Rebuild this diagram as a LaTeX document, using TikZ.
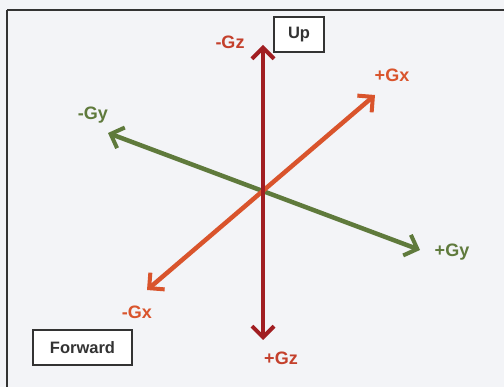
\documentclass[tikz,border=0pt]{standalone}
\usepackage{fontspec}
\setmainfont{Liberation Sans}
\usetikzlibrary{arrows.meta}
\definecolor{zred}{HTML}{A11E22}
\definecolor{xorg}{HTML}{D9542C}
\definecolor{ygrn}{HTML}{5F7A3C}
\definecolor{zlab}{HTML}{C4402C}
\definecolor{bg}{HTML}{F3F4F7}
\definecolor{boxc}{HTML}{333333}
\tikzset{
  axis/.style={line width=4.5pt, {Straight Barb[length=11pt,width=22pt,line width=4pt]}-{Straight Barb[length=11pt,width=22pt,line width=4pt]}},
  lab/.style={font=\bfseries\fontsize{18}{20}\selectfont, inner sep=0pt},
  tag/.style={draw=boxc, line width=1.3pt, font=\bfseries\fontsize{16.5}{18}\selectfont, text=boxc, fill=white, inner sep=0pt}
}
\begin{document}
\begin{tikzpicture}[x=1pt,y=-1pt]
\useasboundingbox (0,0) rectangle (504,387);
\fill[bg] (0,0) rectangle (504,387);
\draw[line width=1.5pt, black!80] (7,10) -- (7,390);
\draw[line width=1.5pt, black!80] (7,10) -- (510,10);
\coordinate (o) at (263,192);
\coordinate (zt) at (263,45);
\coordinate (zb) at (263,340);
\coordinate (xt) at (375,95);
\coordinate (xb) at (147,290);
\coordinate (yl) at (108,133);
\coordinate (yr) at (420,250);
\draw[axis, ygrn] (yl) -- (yr);
\draw[axis, xorg] (xb) -- (xt);
\draw[axis, zred] (zb) -- (zt);
\node[lab, text=zlab] (mgz) at (230,42) {-Gz};
\node[lab, text=zlab] (pgz) at (281,358) {+Gz};
\node[lab, text=xorg] (pgx) at (392,75) {+Gx};
\node[lab, text=xorg] (mgx) at (137,312) {-Gx};
\node[lab, text=ygrn] (mgy) at (93,115) {-Gy};
\node[lab, text=ygrn] (pgy) at (452,252) {+Gy};
\node[tag, minimum width=50pt, minimum height=35pt] (up) at (299,34.5) {Up};
\node[tag, minimum width=99pt, minimum height=35pt] (fw) at (82.5,347.5) {Forward};
\end{tikzpicture}
\end{document}
